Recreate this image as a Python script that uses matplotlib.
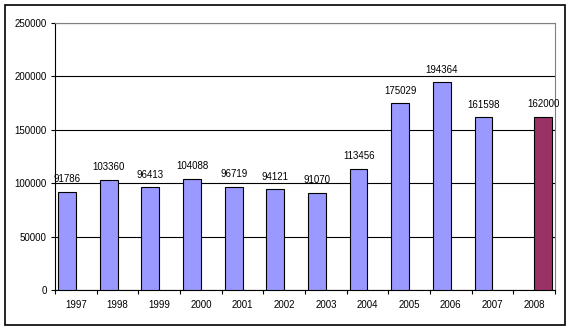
import numpy as np
from matplotlib import pyplot as plt
from matplotlib.patches import Rectangle

years = ['1997', '1998', '1999', '2000', '2001', '2002', '2003', '2004', '2005', '2006', '2007', '2008']
actual = [91786, 103360, 96413, 104088, 96719, 94121, 91070, 113456, 175029, 194364, 161598, None]
forecast = [None, None, None, None, None, None, None, None, None, None, None, 162000]

plt.rcParams['font.family'] = ['Liberation Sans', 'DejaVu Sans']

fig = plt.figure(figsize=(5.71, 3.30), dpi=100)
fig.patches.append(Rectangle((5 / 571, 5 / 330), 560 / 571, 320 / 330, transform=fig.transFigure,
                             fill=False, edgecolor='black', linewidth=1.2))
ax = fig.add_axes([55 / 571, 40 / 330, 500 / 571, 267 / 330])

x = np.arange(len(years))
w = 0.425


def draw(vals, offset, color):
    xs = [x[i] + offset for i in range(len(vals)) if vals[i] is not None]
    hs = [v for v in vals if v is not None]
    ax.bar(xs, hs, w, color=color, edgecolor='black', linewidth=0.8, zorder=3)
    for xi, h in zip(xs, hs):
        ax.annotate(str(h), (xi, h), xytext=(0, 9), textcoords='offset points',
                    ha='center', va='center', fontsize=7, zorder=4)


draw(actual, -w / 2, '#9999ff')
draw(forecast, w / 2, '#993366')

ax.set_xlim(-0.5, len(years) - 0.5)
ax.set_ylim(0, 250000)
ax.set_yticks(np.arange(0, 250001, 50000))
ax.set_yticklabels([str(v) for v in range(0, 250001, 50000)])
ax.yaxis.grid(True, color='black', linewidth=0.8, zorder=0)

ax.set_xticks(x)
ax.set_xticklabels(years)
ax.set_xticks(np.arange(-0.5, len(years)), minor=True)
ax.tick_params(axis='x', which='major', length=0, pad=7, labelsize=7)
ax.tick_params(axis='x', which='minor', length=3, width=0.8)
ax.tick_params(axis='y', length=3, width=0.8, pad=3, labelsize=7)

ax.spines['top'].set_color('#808080')
ax.spines['right'].set_color('#808080')
for s in ax.spines.values():
    s.set_linewidth(0.8)

fig.savefig('out.png', dpi=100)
